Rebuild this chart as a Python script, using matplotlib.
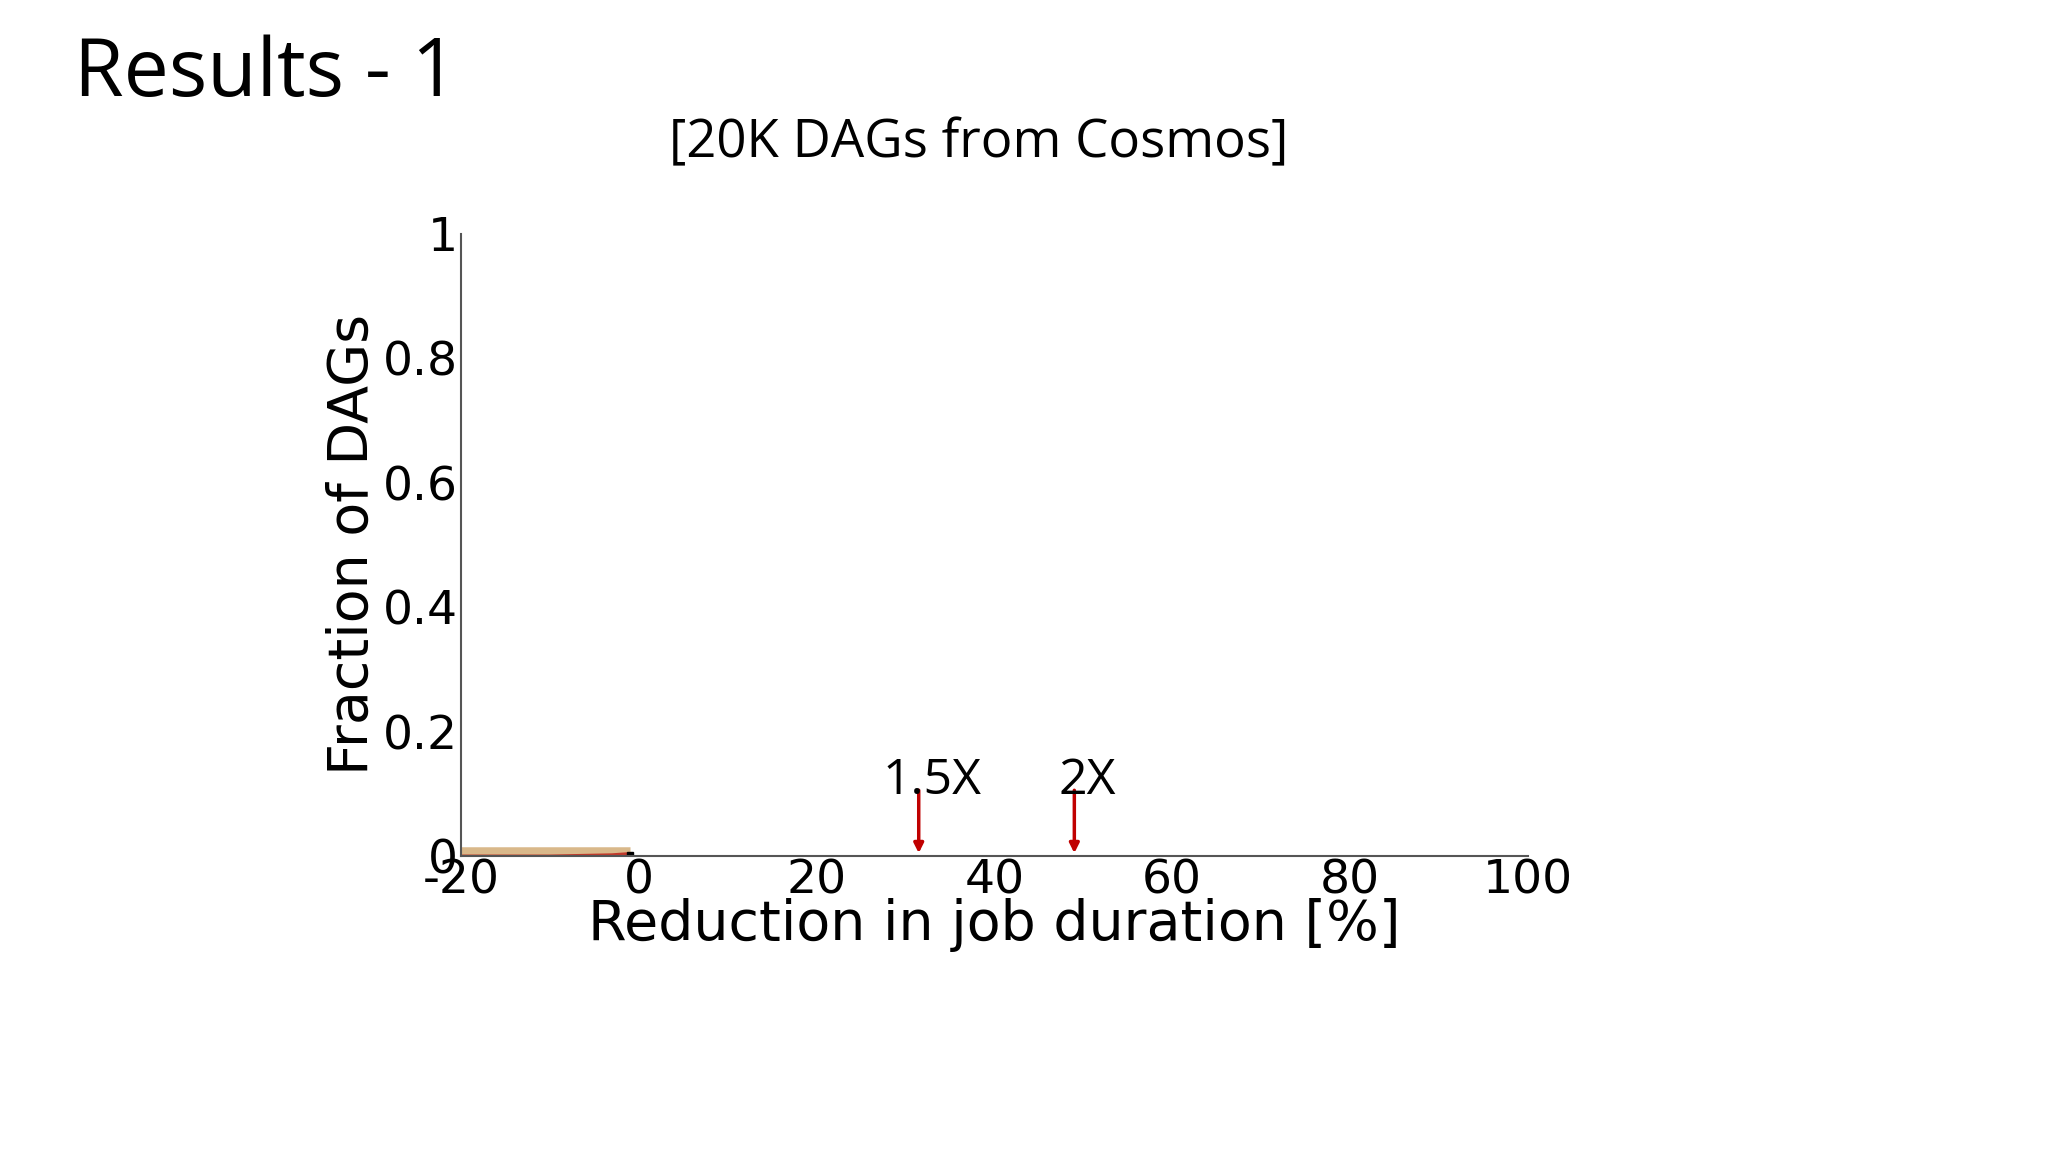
import matplotlib
matplotlib.use("Agg")
import matplotlib.pyplot as plt

plt.rcParams["axes.unicode_minus"] = False

title = "Results - 1"
subtitle = "[20K DAGs from Cosmos]"
xticks = [-20, 0, 20, 40, 60, 80, 100]
yticks = [0, 0.2, 0.4, 0.6, 0.8, 1]
ytick_labels = ["0", "0.2", "0.4", "0.6", "0.8", "1"]
band_x = [-20, -1]
band_y = [0.004, 0.004]
red_x = [-20, -10, -3, -1]
red_y = [0.0, 0.0, 0.002, 0.004]
arrow_x = [31.5, 49.0]
arrow_labels = ["1.5X", "2X"]

fig = plt.figure(figsize=(20.48, 11.52), dpi=100)
fig.text(0.036, 0.935, title, fontsize=58, family="Open Sans", va="center")
fig.text(0.478, 0.875, subtitle, fontsize=38, family="Open Sans", ha="center", va="center")

ax = fig.add_axes([0.225, 0.257, 0.521, 0.54])
ax.plot(band_x, band_y, color="#d9b88a", lw=9, solid_capstyle="butt")
ax.plot(red_x, red_y, color="#c0392b", lw=2)
ax.plot([-1], [0.002], marker="s", color="black", ms=5)
ax.set_xlim(-20, 100)
ax.set_ylim(0, 1)
ax.set_xticks(xticks)
ax.set_yticks(yticks)
ax.set_yticklabels(ytick_labels)
ax.tick_params(labelsize=34, length=0, pad=2)
for s in ["top", "right"]:
    ax.spines[s].set_visible(False)
for s in ["left", "bottom"]:
    ax.spines[s].set_color("#555555")
    ax.spines[s].set_linewidth(1.5)
ax.set_xlabel("Reduction in job duration [%]", fontsize=40, labelpad=-4)
ax.set_ylabel("Fraction of DAGs", fontsize=40, labelpad=2)

for x, lab in zip(arrow_x, arrow_labels):
    ax.annotate("", xy=(x, 0.0), xytext=(x, 0.11),
                arrowprops=dict(arrowstyle="-|>", color="#c00000", lw=2.5, mutation_scale=14))
    ax.text(x + 1.5, 0.12, lab, fontsize=36, family="Open Sans", ha="center", va="center")

fig.savefig("out.png", dpi=100)
